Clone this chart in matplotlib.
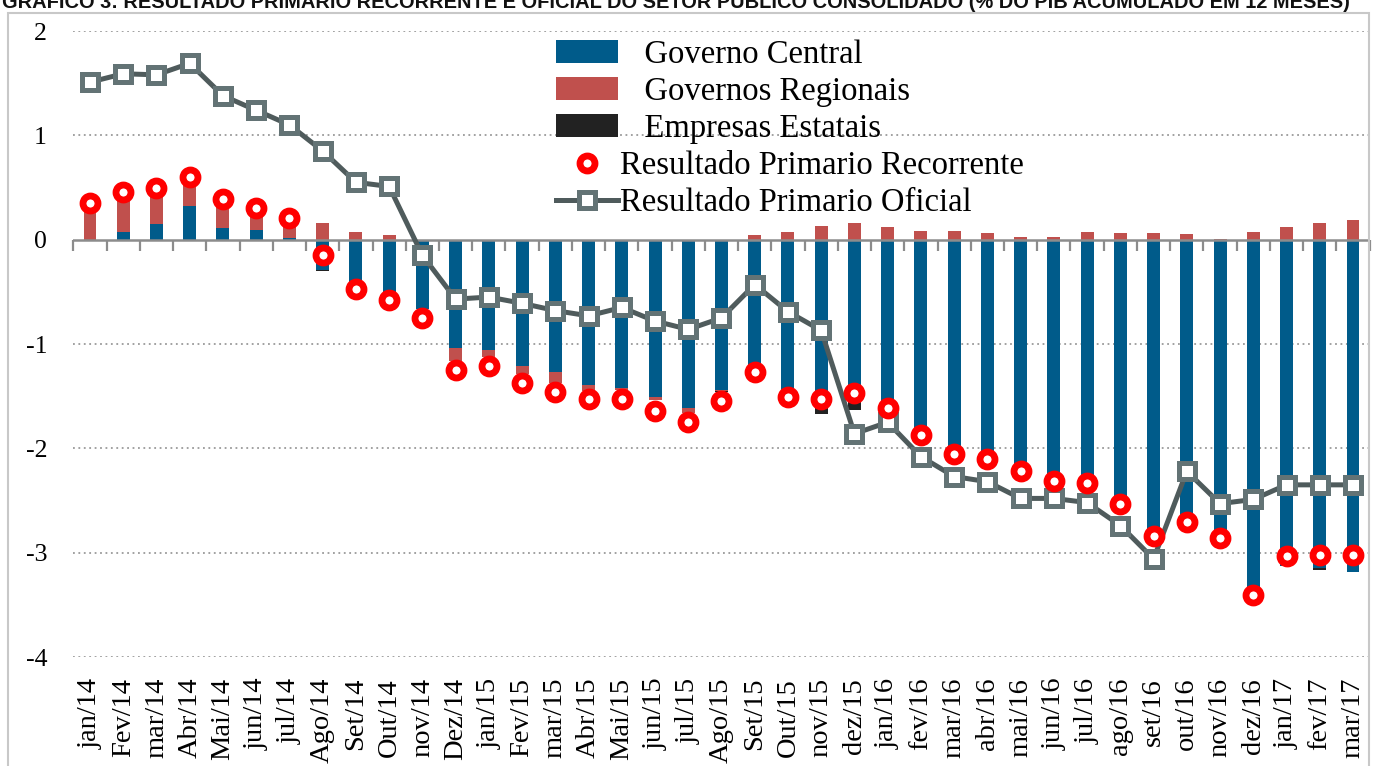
import numpy as np
import matplotlib
matplotlib.use("Agg")
import matplotlib.pyplot as plt
from matplotlib.patches import Rectangle, Patch
from matplotlib.lines import Line2D

# ---------------- data ----------------
labels = ["jan/14", "Fev/14", "mar/14", "Abr/14", "Mai/14", "jun/14", "jul/14", "Ago/14",
          "Set/14", "Out/14", "nov/14", "Dez/14", "jan/15", "Fev/15", "mar/15", "Abr/15",
          "Mai/15", "jun/15", "jul/15", "Ago/15", "Set/15", "Out/15", "nov/15", "dez/15",
          "jan/16", "fev/16", "mar/16", "abr/16", "mai/16", "jun/16", "jul/16", "ago/16",
          "set/16", "out/16", "nov/16", "dez/16", "jan/17", "fev/17", "mar/17"]

governo_central = [0.00, 0.07, 0.15, 0.32, 0.11, 0.09, 0.02, -0.29, -0.54, -0.62,
                   -0.66, -1.04, -1.06, -1.21, -1.27, -1.39, -1.42, -1.51, -1.61, -1.44,
                   -1.30, -1.55, -1.60, -1.56, -1.70, -1.94, -2.11, -2.15, -2.24, -2.33,
                   -2.38, -2.58, -2.88, -2.65, -2.79, -3.33, -3.13, -3.15, -3.19]

governos_regionais = [0.35, 0.36, 0.33, 0.26, 0.26, 0.19, 0.17, 0.16, 0.07, 0.04,
                      0.00, -0.12, -0.06, -0.08, -0.10, -0.06, -0.02, -0.03, -0.05, -0.01,
                      0.04, 0.07, 0.13, 0.16, 0.12, 0.08, 0.08, 0.06, 0.03, 0.03,
                      0.07, 0.06, 0.06, 0.05, 0.01, 0.07, 0.12, 0.16, 0.19]

empresas_estatais = [0.00, 0.00, 0.00, 0.00, 0.00, 0.00, 0.00, -0.01, 0.00, 0.00,
                     0.00, 0.00, 0.00, 0.00, 0.00, 0.00, 0.00, 0.00, 0.00, -0.01,
                     0.00, 0.00, -0.07, -0.07, 0.00, 0.00, 0.00, 0.00, 0.00, 0.00,
                     0.00, 0.00, 0.00, 0.00, 0.00, 0.00, 0.00, -0.02, 0.00]

resultado_recorrente = [0.35, 0.46, 0.50, 0.60, 0.39, 0.30, 0.21, -0.15, -0.47, -0.58,
                        -0.75, -1.25, -1.21, -1.37, -1.46, -1.53, -1.53, -1.64, -1.75, -1.55,
                        -1.27, -1.51, -1.53, -1.47, -1.61, -1.87, -2.05, -2.10, -2.22, -2.31,
                        -2.33, -2.53, -2.84, -2.71, -2.86, -3.41, -3.03, -3.02, -3.02]

resultado_oficial = [1.51, 1.59, 1.58, 1.69, 1.38, 1.24, 1.10, 0.85, 0.55, 0.51,
                     -0.15, -0.57, -0.55, -0.61, -0.68, -0.73, -0.65, -0.78, -0.86, -0.75,
                     -0.43, -0.69, -0.87, -1.86, -1.75, -2.08, -2.27, -2.32, -2.48, -2.48,
                     -2.52, -2.74, -3.06, -2.22, -2.53, -2.49, -2.35, -2.35, -2.35]

y_ticks = [2, 1, 0, -1, -2, -3, -4]

title = ("GRÁFICO 3: RESULTADO PRIMÁRIO RECORRENTE E OFICIAL DO SETOR PÚBLICO "
         "CONSOLIDADO (% DO PIB ACUMULADO EM 12 MESES)")

# ---------------- style ----------------
SERIF = ["Liberation Serif", "DejaVu Serif"]
C_BLUE = "#005b8a"
C_RED = "#c0504d"
C_BLACK = "#222222"
C_RING = "#ff0000"
C_LINE = "#4f5b5c"
C_SQ = "#637375"

W, H = 1376, 766
fig = plt.figure(figsize=(W / 100, H / 100), dpi=100)
fig.patch.set_facecolor("white")

# outer chart frame
fig.add_artist(Rectangle((8 / W, -0.05), (1369 - 8) / W, (H - 13) / H + 0.05,
                         transform=fig.transFigure, fill=False,
                         edgecolor="#c8c8c8", lw=1.5))

# title (its upper part lies above the top edge, as in the reference)
fig.text(2 / W, 1 - 8 / H, title, fontsize=14.4, fontweight="bold",
         family=["Liberation Sans", "DejaVu Sans"], va="baseline", ha="left",
         color="#111111")

ax_l, ax_r = 73.4, 1369.6
ax_t, ax_b = 31, 657
ax = fig.add_axes([ax_l / W, (H - ax_b) / H, (ax_r - ax_l) / W, (ax_b - ax_t) / H])

n = len(labels)
x = np.arange(n)
width = 0.39

series = [(governo_central, C_BLUE, "   Governo Central"),
          (governos_regionais, C_RED, "   Governos Regionais"),
          (empresas_estatais, C_BLACK, "   Empresas Estatais")]

pos_base = np.zeros(n)
neg_base = np.zeros(n)
handles = []
for vals, col, lab in series:
    v = np.asarray(vals, dtype=float)
    bottom = np.where(v >= 0, pos_base, neg_base)
    ax.bar(x, v, width, bottom=bottom, color=col, zorder=2, linewidth=0)
    pos_base = pos_base + np.where(v > 0, v, 0)
    neg_base = neg_base + np.where(v < 0, v, 0)
    handles.append(Patch(facecolor=col, edgecolor="none", label=lab))

ax.plot(x, resultado_oficial, color=C_LINE, lw=3.6, zorder=4,
        marker="s", ms=11, mfc="white", mec=C_SQ, mew=3.6)
ax.plot(x, resultado_recorrente, linestyle="none", zorder=5,
        marker="o", ms=10.8, mfc="white", mec=C_RING, mew=4.9)

handles.append(Line2D([], [], linestyle="none", marker="o", ms=10.8, mfc="white",
                      mec=C_RING, mew=4.9, label="Resultado Primario Recorrente"))
handles.append(Line2D([], [], color=C_LINE, lw=3.6, marker="s", ms=11, mfc="white",
                      mec=C_SQ, mew=3.6, label="Resultado Primario Oficial"))

ax.set_xlim(-0.5, n - 0.5)
ax.set_ylim(-4, 2)

# gridlines (dotted), except zero
for yv in y_ticks:
    if yv != 0:
        ax.axhline(yv, color="#9a9a9a", lw=1.3, linestyle=(0, (1, 2)), zorder=1)

# zero axis line with category boundary ticks
ax.axhline(0, color="#8c8c8c", lw=1.8, zorder=3)
sec = ax.secondary_xaxis(0, transform=ax.transData)
sec.set_xticks(np.arange(n + 1) - 0.5)
sec.tick_params(axis="x", direction="out", length=8, width=1.6, color="#8c8c8c",
                labelbottom=False)
sec.spines["bottom"].set_visible(False)

for s in ["top", "right", "left", "bottom"]:
    ax.spines[s].set_visible(False)

ax.set_yticks(y_ticks)
ax.set_yticklabels([str(t) for t in y_ticks], family=SERIF, fontsize=18.5)
ax.tick_params(axis="y", length=0, pad=19)

ax.set_xticks(x)
ax.set_xticklabels(labels, rotation=90, family=SERIF, fontsize=20.5, va="top", ha="center")
ax.tick_params(axis="x", length=0, pad=15)

leg = ax.legend(handles=handles, loc="upper left",
                bbox_to_anchor=((543 - ax_l) / (ax_r - ax_l), 1.008),
                frameon=False, prop={"family": SERIF, "size": 23.5},
                handlelength=1.9, handletextpad=0.05, labelspacing=0.205,
                borderaxespad=0)

fig.savefig("out.png", dpi=100, facecolor="white")
